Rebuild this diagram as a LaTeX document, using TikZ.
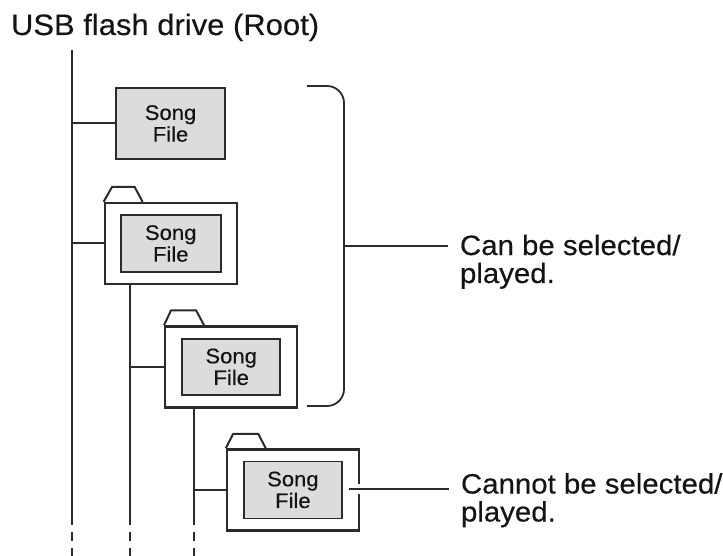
\documentclass[tikz,border=0pt]{standalone}
\usepackage{fontspec}
\setmainfont{Liberation Sans}[FakeStretch=1.05,FakeBold=0.3]
\definecolor{ink}{HTML}{2B2B2B}
\definecolor{txt}{HTML}{141414}
\definecolor{filegray}{HTML}{DCDCDC}
\begin{document}
\begin{tikzpicture}[x=1pt,y=-1pt,
  line width=2pt, draw=ink, color=ink,
  filebox/.style={draw=ink, fill=filegray, line width=1.8pt, align=center,
     text=txt, font=\fontsize{21}{21.7}\selectfont, inner sep=0pt},
  folderbox/.style={draw=ink, fill=white, line width=2.3pt, minimum width=132pt,
     minimum height=81pt, inner sep=0pt},
  label/.style={anchor=base west, align=left, inner sep=0pt, text=txt,
     font=\fontsize{28}{28}\selectfont},
  tab/.style={draw=ink, line width=2pt, line join=round}
]
\useasboundingbox (0,0) rectangle (723,556);

% title
\node[anchor=base west, inner sep=0pt, text=txt, font=\fontsize{29.5}{30}\selectfont]
  (title) at (10,35) {USB flash drive (Root)};
\coordinate (r0) at (72,50);

% file at root
\node[filebox, minimum width=109pt, minimum height=71pt] (f1) at (170.5,123.5) {Song\\File};

% folder 1
\node[folderbox] (fo1) at (170.75,243.5) {};
\node[filebox, minimum width=100pt, minimum height=56.5pt] (f2) at (fo1.center) {Song\\File};
\draw[tab] (fo1.north west) -- ([shift={(8.5pt,15pt)}]fo1.north west)
  -- ([shift={(31pt,15pt)}]fo1.north west) -- ([shift={(39pt,0pt)}]fo1.north west);

% folder 2
\node[folderbox] (fo2) at (231.2,366.9) {};
\node[filebox, minimum width=98pt, minimum height=56.5pt] (f3) at (fo2.center) {Song\\File};
\draw[tab] (fo2.north west) -- ([shift={(7pt,15pt)}]fo2.north west)
  -- ([shift={(32pt,15pt)}]fo2.north west) -- ([shift={(40pt,0pt)}]fo2.north west);

% folder 3
\node[folderbox] (fo3) at (292.9,489.9) {};
\node[filebox, minimum width=98pt, minimum height=57pt] (f4) at (fo3.center) {Song\\File};
\draw[tab] (fo3.north west) -- ([shift={(7.5pt,14.5pt)}]fo3.north west)
  -- ([shift={(32.5pt,14.5pt)}]fo3.north west) -- ([shift={(40pt,0pt)}]fo3.north west);

% tree lines
\coordinate (r1) at (72,525);
\coordinate (a0) at (130,284);
\coordinate (a1) at (130,525);
\coordinate (b0) at (194,407);
\coordinate (b1) at (194,525);
\draw (r0) -- (r1);
\draw (fo1.south -| a0) -- (a1);
\draw (fo2.south -| b0) -- (b1);
\draw (f1.west) -- (f1.west -| r0);
\draw (fo1.west) -- (fo1.west -| r0);
\draw (fo2.west) -- (fo2.west -| a0);
\draw (fo3.west) -- (fo3.west -| b0);
\foreach \c in {r1,a1,b1}{
  \draw[dash pattern=on 9pt off 7pt] ([yshift=-7pt]\c) -- ([yshift=-31pt]\c);
}

% brace
\draw[line width=1.8pt, rounded corners=17pt] (307,86) -| (344,406) -- (307,406);
\coordinate (bm) at (344,246);
\node[label] (l1) at (459,283) {Can be selected/\\played.};
\draw[line width=1.8pt] (bm) -- (bm -| 448,0);

% cannot pointer
\coordinate (p3) at (349,489);
\coordinate (p3e) at (449,489);
\node[label] (l2) at (460,521.5) {Cannot be selected/\\played.};
\draw[white, line width=10pt] (p3) -- ([xshift=14pt]p3);
\draw[line width=1.8pt] (p3) -- (p3e);
\end{tikzpicture}
\end{document}
